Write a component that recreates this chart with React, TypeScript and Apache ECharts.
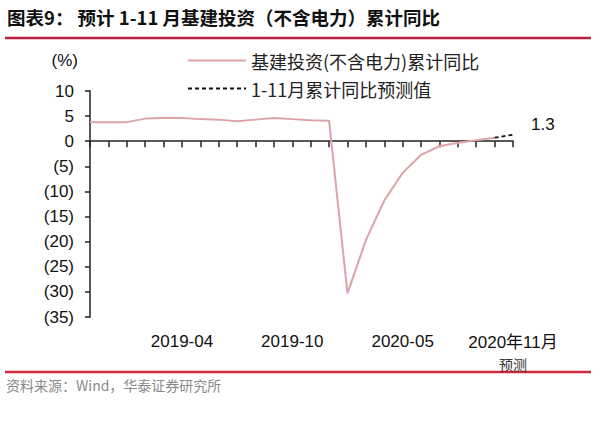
import React, { useEffect, useRef } from "react";
import * as echarts from "echarts";

const categories = [
  "2018-11", "2018-12", "2019-01", "2019-02", "2019-03", "2019-04", "2019-05", "2019-06",
  "2019-07", "2019-08", "2019-09", "2019-10", "2019-11", "2019-12", "2020-02", "2020-03",
  "2020-04", "2020-05", "2020-06", "2020-07", "2020-08", "2020-09", "2020-10", "2020年11月预测",
];
const actualValues = [
  3.8, 3.8, 3.8, 4.5, 4.6, 4.6, 4.4, 4.3, 4.0, 4.3, 4.6, 4.4, 4.2, 4.1,
  -30.3, -19.7, -11.8, -6.3, -2.7, -1.0, -0.3, 0.2, 0.7, null,
];
const forecastValues = [
  null, null, null, null, null, null, null, null, null, null, null, null, null, null,
  null, null, null, null, null, null, null, null, 0.7, 1.3,
];
const seriesNames = ["基建投资(不含电力)累计同比", "1-11月累计同比预测值"];
const titleText = "图表9： 预计 1-11 月基建投资（不含电力）累计同比";
const sourceText = "资料来源：Wind，华泰证券研究所";
const yUnit = "(%)";

const NUM_FONT = "'Liberation Sans', Arial, 'Noto Sans CJK SC', sans-serif";
const CJK_FONT = "'Noto Sans CJK SC', 'Liberation Sans', sans-serif";

export default function App() {
  const ref = useRef<HTMLDivElement>(null);
  useEffect(() => {
    document.body.style.margin = "0";
    const chart = echarts.init(ref.current!, null, { renderer: "svg" });
    const lastIdx = categories.length - 1;
    chart.setOption({
      animation: false,
      backgroundColor: "#ffffff",
      grid: { left: 90, right: 87, top: 91, bottom: 109, containLabel: false },
      legend: {
        orient: "vertical",
        left: 182,
        top: 46,
        itemWidth: 58,
        itemHeight: 14,
        itemGap: 9,
        data: seriesNames,
        itemStyle: { opacity: 0 },
        textStyle: { fontFamily: CJK_FONT, fontSize: 18, color: "#222", lineHeight: 19 },
      },
      xAxis: [
        {
          type: "category",
          data: categories,
          boundaryGap: false,
          axisLine: { onZero: true, lineStyle: { color: "#222", width: 1.5 } },
          axisTick: { show: true, interval: 0, length: 6, lineStyle: { color: "#222", width: 1.5 } },
          axisLabel: { show: false },
          splitLine: { show: false },
        },
        {
          type: "category",
          data: categories,
          boundaryGap: false,
          position: "bottom",
          axisLine: { show: false, onZero: false },
          axisTick: { show: false },
          splitLine: { show: false },
          axisLabel: {
            interval: (idx: number) => idx % 6 === 5,
            margin: 14,
            fontFamily: NUM_FONT,
            fontSize: 17,
            color: "#111",
            lineHeight: 21,
            formatter: (v: string, idx: number) =>
              idx === lastIdx ? "{a|2020年11月}\n{b|预测}" : v,
            rich: {
              a: { fontFamily: NUM_FONT, fontSize: 17, color: "#111", lineHeight: 22 },
              b: { fontFamily: CJK_FONT, fontSize: 14, color: "#333", lineHeight: 22 },
            },
          },
        },
      ],
      yAxis: {
        type: "value",
        min: -35,
        max: 10,
        interval: 5,
        name: yUnit,
        nameLocation: "end",
        nameGap: 22,
        nameTextStyle: { fontFamily: NUM_FONT, fontSize: 17, color: "#111", align: "right", padding: [0, 12, 0, 0] },
        axisLine: { show: true, lineStyle: { color: "#222", width: 1.5 } },
        axisTick: { show: true, length: 5, lineStyle: { color: "#222", width: 1.5 } },
        splitLine: { show: false },
        axisLabel: {
          margin: 16,
          fontFamily: NUM_FONT,
          fontSize: 17,
          color: "#111",
          formatter: (v: number) => (v < 0 ? `(${Math.abs(v)})` : `${v}`),
        },
      },
      series: [
        {
          name: seriesNames[0],
          type: "line",
          data: actualValues,
          symbol: "none",
          connectNulls: false,
          lineStyle: { color: "#dca4a8", width: 2 },
          itemStyle: { color: "#dca4a8" },
        },
        {
          name: seriesNames[1],
          type: "line",
          data: forecastValues.map((v, i) =>
            i === lastIdx
              ? {
                  value: v,
                  label: {
                    show: true,
                    position: "right",
                    offset: [13, -10],
                    fontFamily: NUM_FONT,
                    fontSize: 17,
                    color: "#111",
                    formatter: "{c}",
                  },
                }
              : v
          ),
          symbol: "circle",
          symbolSize: 0,
          showSymbol: true,
          lineStyle: { color: "#111", width: 1.8, type: [4, 3] },
          itemStyle: { color: "#111" },
        },
      ],
      graphic: [
        {
          type: "text",
          left: 7,
          top: 8,
          style: { text: titleText, fontFamily: CJK_FONT, fontSize: 18.5, fontWeight: "bold", fill: "#111" },
        },
        {
          type: "line",
          shape: { x1: 5, y1: 38, x2: 591, y2: 38 },
          style: { stroke: "#b8213d", lineWidth: 2.5 },
        },
        {
          type: "line",
          shape: { x1: 5, y1: 372, x2: 591, y2: 372 },
          style: { stroke: "#d0283f", lineWidth: 2.5 },
        },
        {
          type: "text",
          left: 6,
          top: 378,
          style: { text: sourceText, fontFamily: CJK_FONT, fontSize: 14, fill: "#8a8a8a" },
        },
      ],
    });
    return () => chart.dispose();
  }, []);
  return <div ref={ref} style={{ width: 600, height: 426 }} />;
}
